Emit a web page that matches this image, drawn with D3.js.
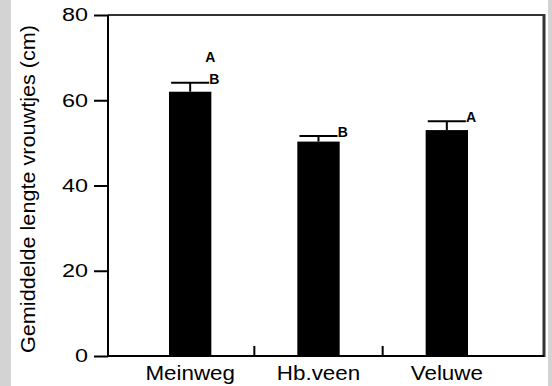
<!DOCTYPE html>
<html>
<head>
<meta charset="utf-8">
<script src="https://cdn.jsdelivr.net/npm/d3@7"></script>
<style>
  html, body { margin: 0; padding: 0; background: #d3d3d3; }
  svg { display: block; }
  text { font-family: "Liberation Sans", Arial, sans-serif; fill: #000; }
</style>
</head>
<body>
<svg id="chart" width="552" height="386"></svg>
<script>
// ---- data ----
const categories = ["Meinweg", "Hb.veen", "Veluwe"];
const means = [62.0, 50.3, 53.0];
const errors = [2.1, 1.3, 2.1];
const letters = [["A", "B"], ["B"], ["A"]];
const yTicks = [0, 20, 40, 60, 80];
const yTitle = "Gemiddelde lengte vrouwtjes (cm)";

// ---- layout ----
const W = 552, H = 386;
const mLeft = 108, mRight = 544, mTop = 15, mBottom = 356;

const svg = d3.select("#chart");
svg.append("rect").attr("x", 11).attr("y", 0).attr("width", 537).attr("height", H).attr("fill", "#fff");

const y = d3.scaleLinear().domain([0, 80]).range([mBottom, mTop]);
const x = d3.scaleBand().domain(categories).range([126, 511]).padding(0);
const barW = x.bandwidth() * 0.33;

// frame (top + right)
svg.append("line").attr("x1", mLeft).attr("x2", mRight).attr("y1", mTop).attr("y2", mTop)
  .attr("stroke", "#333").attr("stroke-width", 2);
svg.append("line").attr("x1", mRight).attr("x2", mRight).attr("y1", mTop - 1).attr("y2", mBottom + 1)
  .attr("stroke", "#333").attr("stroke-width", 3);

// bars
const g = svg.append("g");
g.selectAll("rect.bar").data(categories).join("rect")
  .attr("class", "bar")
  .attr("x", (d) => x(d) + x.bandwidth() / 2 - barW / 2)
  .attr("width", barW)
  .attr("y", (d, i) => y(means[i]))
  .attr("height", (d, i) => y(0) - y(means[i]))
  .attr("fill", "#000");

// error bars
const capW = barW * 0.9;
categories.forEach((c, i) => {
  const cx = x(c) + x.bandwidth() / 2;
  g.append("line").attr("x1", cx).attr("x2", cx)
    .attr("y1", y(means[i])).attr("y2", y(means[i] + errors[i]))
    .attr("stroke", "#000").attr("stroke-width", 2);
  g.append("line").attr("x1", cx - capW / 2).attr("x2", cx + capW / 2)
    .attr("y1", y(means[i] + errors[i])).attr("y2", y(means[i] + errors[i]))
    .attr("stroke", "#000").attr("stroke-width", 2);
  // significance letters
  const ls = letters[i];
  ls.forEach((l, j) => {
    const k = ls.length - 1 - j;
    const lx = cx + barW / 2 - 2 - (k > 0 ? 4 : 0);
    const ly = y(means[i] + errors[i]) + 1 - k * 22;
    g.append("text").attr("x", lx).attr("y", ly)
      .attr("font-size", 14).attr("font-weight", "bold").text(l);
  });
});

// y axis
const yAxis = d3.axisLeft(y).tickValues(yTicks).tickSize(14).tickFormat("");
const ya = svg.append("g").attr("transform", `translate(${mLeft},0)`).call(yAxis);
ya.select(".domain").attr("stroke", "#000").attr("stroke-width", 2).attr("d", `M0,${mTop}V${mBottom + 1}`);
ya.selectAll(".tick line").attr("stroke", "#000").attr("stroke-width", 2);
yTicks.forEach((t) => {
  svg.append("text")
    .attr("transform", `translate(88,${y(t)}) scale(1.3,1)`)
    .attr("text-anchor", "end").attr("dy", "0.36em")
    .attr("font-size", 18).text(t);
});

// x axis
svg.append("line").attr("x1", mLeft - 1).attr("x2", mRight).attr("y1", mBottom).attr("y2", mBottom)
  .attr("stroke", "#000").attr("stroke-width", 2);
categories.slice(1).forEach((c) => {
  svg.append("line").attr("x1", x(c)).attr("x2", x(c)).attr("y1", mBottom).attr("y2", mBottom - 10)
    .attr("stroke", "#000").attr("stroke-width", 2);
});
categories.forEach((c) => {
  svg.append("text")
    .attr("transform", `translate(${x(c) + x.bandwidth() / 2},380) scale(1.12,1)`)
    .attr("text-anchor", "middle").attr("font-size", 20).text(c);
});

// y title
svg.append("text")
  .attr("transform", `translate(35,189) rotate(-90)`)
  .attr("text-anchor", "middle").attr("font-size", 20)
  .attr("textLength", 328).attr("lengthAdjust", "spacingAndGlyphs")
  .text(yTitle);
</script>
</body>
</html>
